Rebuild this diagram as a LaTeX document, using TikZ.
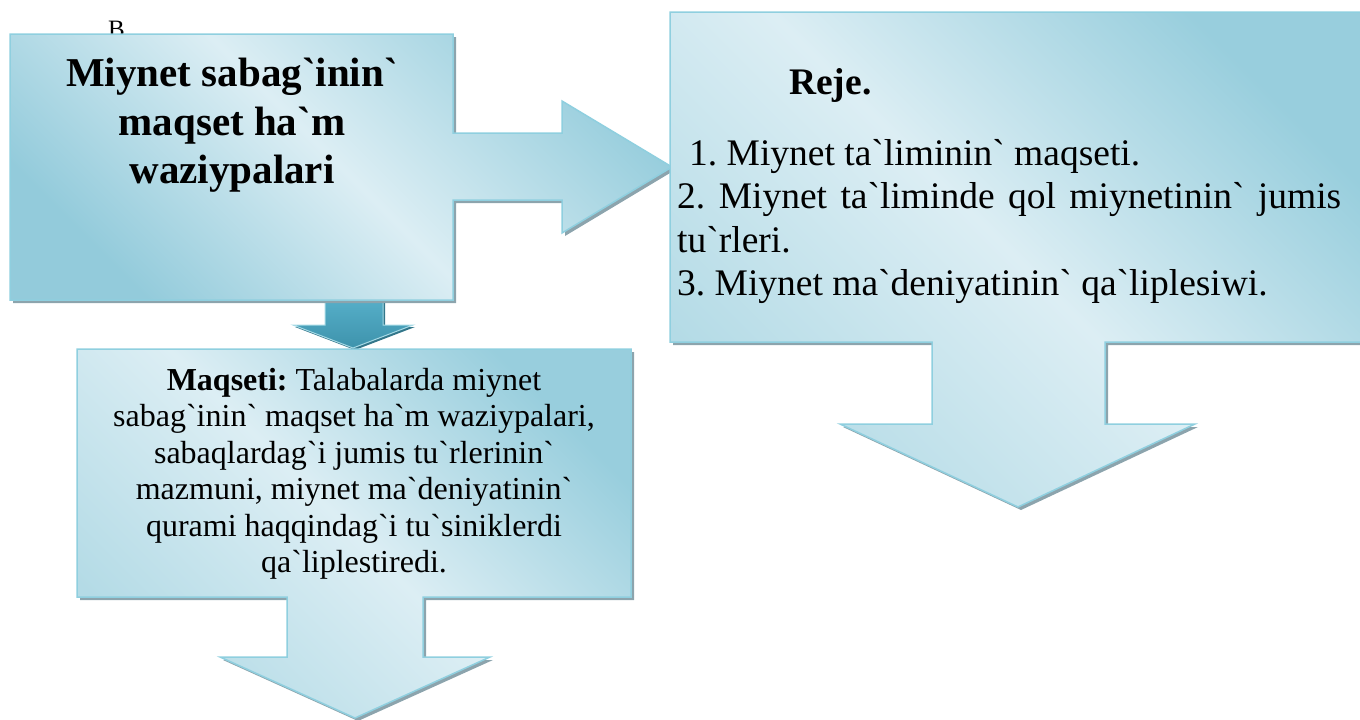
\documentclass[tikz,border=0pt]{standalone}
\usepackage{fontspec}
\setmainfont{Liberation Serif}[Ligatures=TeXOff]
\usetikzlibrary{shadows}
\frenchspacing
\definecolor{cdk}{HTML}{93CBDB}
\definecolor{cmd}{HTML}{B4DBE6}
\definecolor{clt}{HTML}{DCEEF4}
\definecolor{cdk2}{HTML}{98CEDD}
\definecolor{cline}{HTML}{8FCFDF}
\definecolor{shd}{HTML}{8CA4AD}
\definecolor{sa1}{HTML}{55AEC8}
\definecolor{sa2}{HTML}{3E93AC}
\pgfdeclarehorizontalshading{cal}{100bp}{color(0bp)=(cdk); color(25bp)=(cdk); color(50bp)=(clt); color(75bp)=(cdk2); color(100bp)=(cdk2)}
\pgfdeclarehorizontalshading{calb}{100bp}{color(0bp)=(cmd); color(25bp)=(cmd); color(50bp)=(clt); color(75bp)=(cdk2); color(100bp)=(cdk2)}
\begin{document}
\frenchspacing
\begin{tikzpicture}[x=1pt,y=-1pt,
  callout/.style={draw=cline, line width=1.5pt, line join=miter, shade, shading=cal, shading angle=45,
    drop shadow={shadow xshift=3pt, shadow yshift=-3pt, fill=shd, opacity=1}},
  calloutb/.style={callout, shading=calb},
  smallarrow/.style={draw=cline!80!white, line width=1pt, top color=sa1, bottom color=sa2,
    drop shadow={shadow xshift=2pt, shadow yshift=-2pt, fill=sa2!80!black, opacity=1}},
  bigfont/.style={font=\bfseries\fontsize{41}{48}\selectfont},
  planfont/.style={font=\fontsize{37.5}{43.5}\selectfont},
  goalfont/.style={font=\fontsize{32}{36.5}\selectfont},
  ctext/.style={inner sep=0pt, anchor=base},
  ltext/.style={inner sep=0pt, anchor=base west}]
\useasboundingbox (0,0) rectangle (1360,720);

% small connecting block arrow
\path[smallarrow] (325,300) -- (383,300) -- (383,325) -- (413,325) -- (353,348) -- (293,325) -- (325,325) -- cycle;

% stray letter
\node[ltext, font=\fontsize{25}{30}\selectfont] (bletter) at (108,37.5) {B};

% callout 1: title box with right arrow
\path[callout] (10,34) -- (453,34) -- (453,133) -- (562,133) -- (562,101) -- (672,167)
  -- (562,233) -- (562,200) -- (453,200) -- (453,300) -- (10,300) -- cycle;

% callout 2: plan box with down arrow
\path[calloutb] (670,12) -- (1366,12) -- (1366,342) -- (1105,342) -- (1105,424) -- (1195,424)
  -- (1018,507) -- (840,424) -- (932,424) -- (932,342) -- (670,342) -- cycle;

% callout 3: goal box with down arrow
\path[calloutb] (77,349) -- (631,349) -- (631,597) -- (423,597) -- (423,657) -- (490,657)
  -- (355,718) -- (220,657) -- (287,657) -- (287,597) -- (77,597) -- cycle;

% title text
\node[ctext, bigfont] (t1) at (232,86) {Miynet sabag`inin`};
\node[ctext, bigfont] (t2) at (232,135) {maqset ha`m};
\node[ctext, bigfont] (t3) at (232,183) {waziypalari};

% plan text
\node[ltext, font=\bfseries\fontsize{37.5}{43.5}\selectfont] (reje) at (789,94) {Reje.};
\node[ltext, planfont] (p1) at (689,165) {1. Miynet ta`liminin` maqseti.};
\node[ltext, planfont] (p2) at (677,208.5) {\makebox[664pt][s]{2. Miynet ta`liminde qol miynetinin` jumis}};
\node[ltext, planfont] (p2b) at (677,252) {tu`rleri.};
\node[ltext, planfont] (p3) at (677,295.5) {3. Miynet ma`deniyatinin` qa`liplesiwi.};

% goal text
\node[ctext, goalfont] (g1) at (354,390) {\textbf{Maqseti:} Talabalarda miynet};
\node[ctext, goalfont] (g2) at (354,426.5) {sabag`inin` maqset ha`m waziypalari,};
\node[ctext, goalfont] (g3) at (354,463) {sabaqlardag`i jumis tu`rlerinin`};
\node[ctext, goalfont] (g4) at (354,499.5) {mazmuni, miynet ma`deniyatinin`};
\node[ctext, goalfont] (g5) at (354,536) {qurami haqqindag`i tu`siniklerdi};
\node[ctext, goalfont] (g6) at (354,572.5) {qa`liplestiredi.};
\end{tikzpicture}
\end{document}
